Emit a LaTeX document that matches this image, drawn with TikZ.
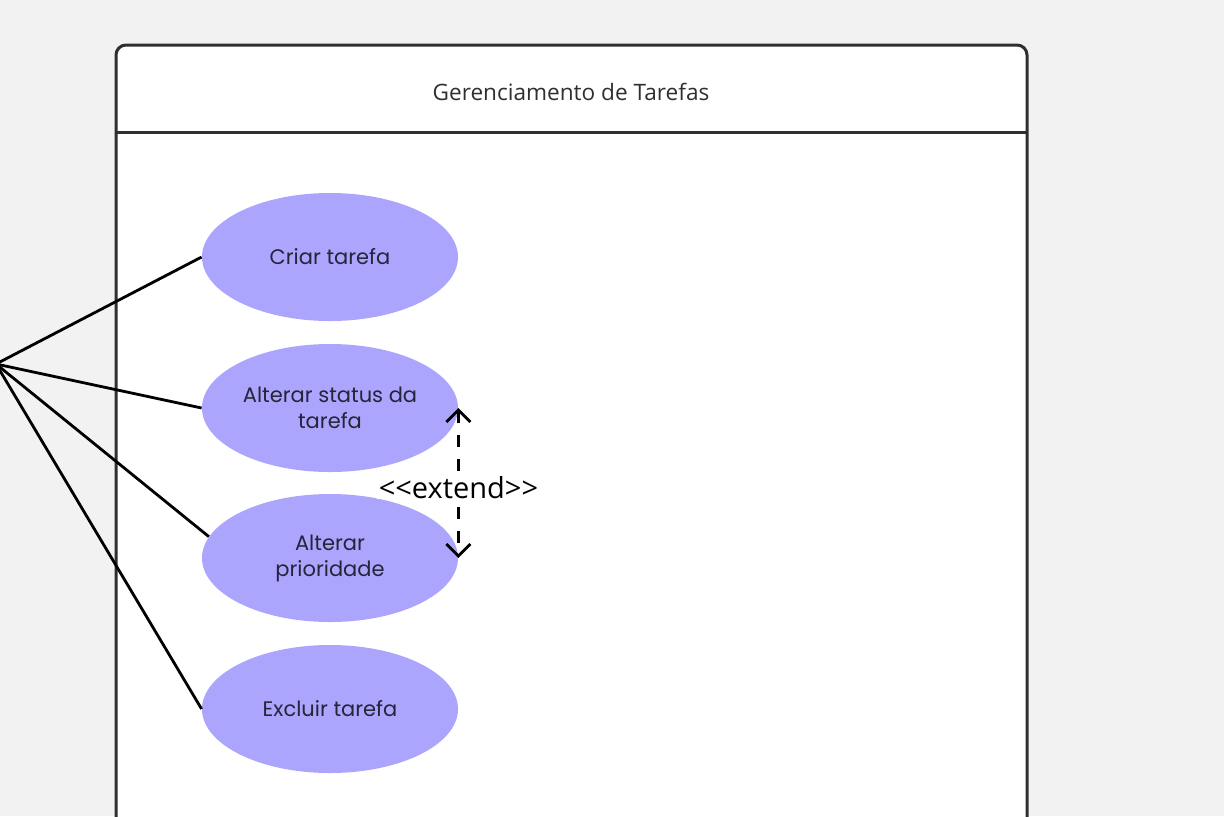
\documentclass[tikz,border=0pt]{standalone}
\usepackage{fontspec}
\setmainfont{Open Sans}
\newfontfamily\casefont{Poppins}
\usetikzlibrary{arrows.meta,shapes.geometric,positioning}
\definecolor{canvas}{HTML}{F2F2F2}
\definecolor{frameline}{HTML}{2F2F33}
\definecolor{usecase}{HTML}{ACA5FD}
\definecolor{casetext}{HTML}{26243A}

\begin{document}
\begin{tikzpicture}[x=0.5pt,y=-0.5pt,
  caseoval/.style={ellipse,fill=usecase,minimum width=128pt,minimum height=64pt,inner sep=0pt,
    align=center,text=casetext,font=\casefont\fontsize{10.5}{13}\selectfont},
  assoc/.style={line width=1.4pt,black},
  extendline/.style={line width=1.4pt,dash pattern=on 6pt off 6pt,{Straight Barb[length=6pt,width=12pt]}-{Straight Barb[length=6pt,width=12pt]}}]
\useasboundingbox[fill=canvas] (0,0) rectangle (1224,816);
\clip (0,0) rectangle (1224,816);
\draw[frameline,line width=1.5pt,fill=white,rounded corners=5pt] (116,45) rectangle (1027,860);
\draw[frameline,line width=1.5pt] (116,132) -- (1027,132);
\node[text=frameline,font=\fontsize{11.3}{13}\selectfont] (title) at (571,92) {Gerenciamento de Tarefas};
\node[caseoval] (criar) at (330,257) {Criar tarefa};
\node[caseoval] (status) at (330,408) {Alterar status da\\tarefa};
\node[caseoval] (prior) at (330,558) {Alterar\\prioridade};
\node[caseoval] (excluir) at (330,709) {Excluir tarefa};
\coordinate (actor) at (-4,364);
\draw[assoc] (actor) -- (criar.west);
\draw[assoc] (actor) -- (status.west);
\draw[assoc] (actor) -- (prior.170);
\draw[assoc] (actor) -- (excluir.west);
\draw[extendline] (status.east) -- (prior.east)
  node[midway,yshift=-2.5pt,fill=white,inner xsep=1pt,inner ysep=0pt,font=\fontsize{14.5}{16}\selectfont] (ext) {{<}{<}extend{>}{>}};
\end{tikzpicture}
\end{document}
